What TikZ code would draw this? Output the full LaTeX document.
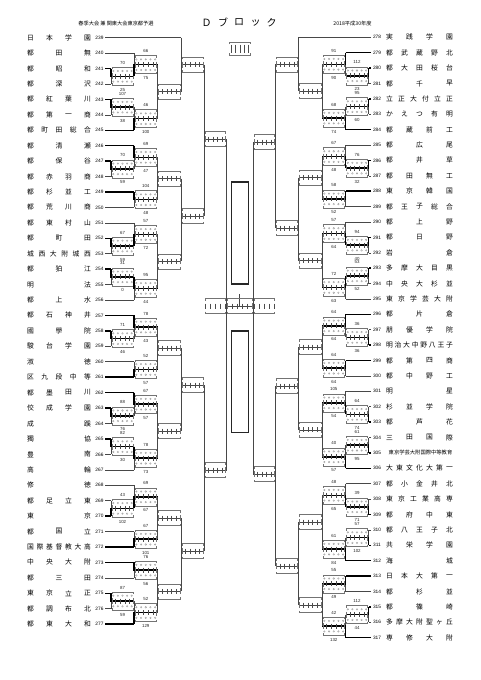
\documentclass[tikz,border=0pt]{standalone}
\usepackage{fontspec}
\setmainfont{Liberation Sans}
\newfontfamily\jp{Noto Sans CJK JP}
\newcount\lc
\newcommand\lab[3]{\global\advance\lc by 1 \node[lab] (L\the\lc) at (#1,#2) {#3};}
% played score box
\newcommand\pbox[3]{%
 \pgfmathsetmacro\bw{#2-#1}%
 \draw[frm] (#1+1,#3-7) -- (#1+1,#3-9) -- (#2-1,#3-9) -- (#2-1,#3-7);
 \draw[frm] (#1+1,#3+7) -- (#1+1,#3+9) -- (#2-1,#3+9) -- (#2-1,#3+7);
 \draw[frm] (#1+1,#3-3) -- (#1+1,#3+3) (#2-1,#3-3) -- (#2-1,#3+3);
 \foreach \q in {1,...,4} {\draw[tk] ({#1+\bw*\q/5},#3-2.5) -- ++(0,5);}
 \foreach \q in {0,...,4} {\draw[dg] ({#1+\bw*(\q+0.5)/5},#3-5.3) circle[radius=0.8];
   \draw[dg] ({#1+\bw*(\q+0.5)/5},#3+5.3) circle[radius=0.8];}}
% unplayed box
\newcommand\ubox[3]{%
 \pgfmathsetmacro\bw{#2-#1}%
 \draw[frm] (#1+1,#3-5.5) -- (#1+1,#3-7.5) -- (#2-1,#3-7.5) -- (#2-1,#3-5.5);
 \draw[frm] (#1+1,#3+5.5) -- (#1+1,#3+7.5) -- (#2-1,#3+7.5) -- (#2-1,#3+5.5);
 \draw[frm] (#1+1,#3-3) -- (#1+1,#3+3) (#2-1,#3-3) -- (#2-1,#3+3);
 \foreach \q in {1,...,4} {\draw[tk] ({#1+\bw*\q/5},#3-2.5) -- ++(0,5);}}
% played match: X, Xn, y1, y2, ym, winner, top, bottom
\newcommand\mt[8]{%
 \draw[ln] (#1,#3) -- (#1,#4);
 \draw[ln] (#1,#5) -- (#2,#5);
 \ifcase#6\relax\or\draw[thk] (#1,#3) -- (#1,#5) -- (#2,#5);\or\draw[thk] (#1,#4) -- (#1,#5) -- (#2,#5);\fi
 \pbox{#1}{#2}{#5}
 \lab{{(#1+#2)/2}}{#5-13.5}{#7}
 \lab{{(#1+#2)/2}}{#5+13.5}{#8}}
% unplayed match
\newcommand\um[5]{%
 \draw[ln] (#1,#3) -- (#1,#4);
 \draw[ln] (#1,#5) -- (#2,#5);
 \ubox{#1}{#2}{#5}}
% team lines
\newcommand\TL[4]{\node[num] (n#1) at (99.5,#2) {#1}; \draw[#4] (105,#2) -- (#3,#2);}
\newcommand\TR[4]{\node[num] (n#1) at (102.5,#2) {#1}; \draw[#4] (108.5,#2) -- (#3,#2);}
% spread name
\newcommand\tname[5]{%
 \foreach \ch [count=\k] in {#5} {\xdef\nn{\k}}%
 \foreach \ch [count=\k] in {#5} {\node[nm] (t#1c\k) at ({#2+(#3-#2)*(\k-1)/(\nn-1)},#4) {\ch};}}
\newcommand\NL[3]{\tname{#1}{30.5}{87.5}{#2}{#3}}
\newcommand\NR[3]{\tname{#1}{389.5}{449.5}{#2}{#3}}
\begin{document}
\begin{tikzpicture}[x=1pt,y=-1pt,
 ln/.style={draw=black!72,line width=0.55pt},
 thk/.style={draw=black,line width=1.5pt},
 frm/.style={draw=black!55,line width=0.45pt},
 tk/.style={draw=black!70,line width=0.45pt},
 dg/.style={draw=black!40,line width=0.3pt},
 nm/.style={font=\jp\fontsize{6.8}{7}\selectfont,inner sep=0pt,anchor=center},
 num/.style={font=\fontsize{4.8}{5}\selectfont,inner sep=0pt},
 lab/.style={font=\fontsize{4.4}{5}\selectfont,inner sep=0pt,text=black!85},
]
\useasboundingbox (0,0) rectangle (481,680);
\fill[white] (0,0) rectangle (481,680);

% ---------- titles
\node[font=\jp\fontsize{10}{12}\selectfont,inner sep=0pt] (ti1) at (206.7,22.5) {Ｄ};
\node[font=\jp\fontsize{10}{12}\selectfont,inner sep=0pt] (ti2) at (223,22.5) {ブ};
\node[font=\jp\fontsize{10}{12}\selectfont,inner sep=0pt] (ti3) at (239.2,22.5) {ロ};
\node[font=\jp\fontsize{10}{12}\selectfont,inner sep=0pt] (ti4) at (255.5,22.5) {ッ};
\node[font=\jp\fontsize{10}{12}\selectfont,inner sep=0pt] (ti5) at (271.7,22.5) {ク};
\node[font=\jp\fontsize{5.2}{6}\selectfont,inner sep=0pt] (sub1) at (116,23.3) {春季大会 兼 関東大会東京都予選};
\node[font=\jp\fontsize{5.2}{6}\selectfont,inner sep=0pt] (sub2) at (352.5,23.3) {2018平成30年度};

% ---------- left side
\TL{239}{37.7}{181}{ln}
\TL{240}{53.1}{134}{ln}
\TL{241}{68.6}{111}{thk}
\TL{242}{84.0}{111}{ln}
\TL{243}{99.4}{111}{thk}
\TL{244}{114.9}{111}{ln}
\TL{245}{130.3}{134}{thk}
\TL{246}{145.7}{134}{thk}
\TL{247}{161.1}{111}{thk}
\TL{248}{176.6}{111}{ln}
\TL{249}{192.0}{134}{thk}
\TL{250}{207.4}{134}{ln}
\TL{251}{222.9}{134}{ln}
\TL{252}{238.3}{111}{thk}
\TL{253}{253.7}{111}{ln}
\TL{254}{269.1}{111}{thk}
\TL{255}{284.6}{111}{ln}
\TL{256}{300.0}{134}{ln}
\TL{257}{315.4}{134}{thk}
\TL{258}{330.9}{111}{thk}
\TL{259}{346.3}{111}{ln}
\TL{260}{361.7}{134}{ln}
\TL{261}{377.2}{134}{thk}
\TL{262}{392.6}{134}{thk}
\TL{263}{408.1}{111}{thk}
\TL{264}{423.5}{111}{ln}
\TL{265}{438.9}{111}{thk}
\TL{266}{454.4}{111}{ln}
\TL{267}{469.8}{134}{ln}
\TL{268}{485.2}{134}{ln}
\TL{269}{500.6}{111}{ln}
\TL{270}{516.1}{111}{thk}
\TL{271}{531.5}{134}{ln}
\TL{272}{546.9}{134}{thk}
\TL{273}{562.4}{134}{thk}
\TL{274}{577.8}{134}{ln}
\TL{275}{593.3}{111}{thk}
\TL{276}{608.7}{111}{ln}
\TL{277}{624.1}{134}{thk}

\mt{111}{134}{68.6}{84.0}{76.3}{1}{70}{25}
\mt{134}{157.5}{53.1}{76.3}{64.7}{2}{66}{75}
\mt{111}{134}{99.4}{114.9}{107.15}{1}{107}{38}
\mt{134}{157.5}{107.15}{130.3}{118.7}{2}{46}{100}
\um{157.5}{181}{64.7}{118.7}{91.7}
\um{181}{204}{37.7}{91.7}{64.7}
\mt{111}{134}{161.1}{176.6}{168.85}{1}{70}{59}
\mt{134}{157.5}{145.7}{168.85}{157.3}{1}{69}{47}
\mt{134}{157.5}{192.0}{207.4}{199.7}{1}{104}{48}
\um{157.5}{181}{157.3}{199.7}{178.5}
\mt{111}{134}{238.3}{253.7}{246}{1}{67}{59}
\mt{134}{157.5}{222.9}{246}{234.45}{2}{57}{72}
\mt{111}{134}{269.1}{284.6}{276.85}{1}{31}{0}
\mt{134}{157.5}{276.85}{300.0}{288.4}{1}{95}{44}
\um{157.5}{181}{234.45}{288.4}{261.4}
\um{181}{204}{178.5}{261.4}{216}
\um{204}{226.7}{64.7}{216}{139}
\mt{111}{134}{330.9}{346.3}{338.6}{1}{71}{46}
\mt{134}{157.5}{315.4}{338.6}{327}{1}{78}{43}
\mt{134}{157.5}{361.7}{377.2}{369.45}{2}{52}{57}
\um{157.5}{181}{327}{369.45}{348.2}
\mt{111}{134}{408.1}{423.5}{415.8}{1}{88}{76}
\mt{134}{157.5}{392.6}{415.8}{404.2}{1}{67}{57}
\mt{111}{134}{438.9}{454.4}{446.65}{1}{82}{30}
\mt{134}{157.5}{446.65}{469.8}{458.2}{1}{78}{73}
\um{157.5}{181}{404.2}{458.2}{431.2}
\um{181}{204}{348.2}{431.2}{385}
\mt{111}{134}{500.6}{516.1}{508.35}{2}{43}{102}
\mt{134}{157.5}{485.2}{508.35}{496.8}{2}{69}{67}
\mt{134}{157.5}{531.5}{546.9}{539.2}{2}{67}{101}
\um{157.5}{181}{496.8}{539.2}{518}
\mt{134}{157.5}{562.4}{577.8}{570.1}{1}{76}{56}
\mt{111}{134}{593.3}{608.7}{601}{1}{87}{59}
\mt{134}{157.5}{601}{624.1}{612.55}{2}{52}{129}
\um{157.5}{181}{570.1}{612.55}{591.3}
\um{181}{204}{518}{591.3}{551}
\um{204}{226.7}{385}{551}{470}
\draw[ln] (226.7,139) -- (226.7,470);

% ---------- right side (mirrored frame)
\begin{scope}[xshift=479.5pt,xscale=-1]
\TR{278}{37.3}{181}{ln}
\TR{279}{52.7}{134}{thk}
\TR{280}{68.1}{111}{thk}
\TR{281}{83.5}{111}{ln}
\TR{282}{98.9}{111}{thk}
\TR{283}{114.3}{111}{ln}
\TR{284}{129.6}{134}{thk}
\TR{285}{145.0}{134}{ln}
\TR{286}{160.4}{111}{thk}
\TR{287}{175.8}{111}{ln}
\TR{288}{191.2}{134}{thk}
\TR{289}{206.6}{134}{ln}
\TR{290}{222.0}{134}{ln}
\TR{291}{237.4}{111}{thk}
\TR{292}{252.8}{111}{ln}
\TR{293}{268.2}{111}{thk}
\TR{294}{283.6}{111}{ln}
\TR{295}{299.0}{134}{ln}
\TR{296}{314.3}{134}{thk}
\TR{297}{329.7}{111}{ln}
\TR{298}{345.1}{111}{thk}
\TR{299}{360.5}{134}{thk}
\TR{300}{375.9}{134}{ln}
\TR{301}{391.3}{134}{ln}
\TR{302}{406.7}{111}{ln}
\TR{303}{422.1}{111}{thk}
\TR{304}{437.5}{111}{ln}
\TR{305}{452.9}{111}{thk}
\TR{306}{468.3}{134}{thk}
\TR{307}{483.7}{134}{ln}
\TR{308}{499.1}{111}{ln}
\TR{309}{514.5}{111}{thk}
\TR{310}{529.9}{111}{ln}
\TR{311}{545.3}{111}{thk}
\TR{312}{560.7}{134}{thk}
\TR{313}{576.1}{134}{thk}
\TR{314}{591.5}{134}{ln}
\TR{315}{606.9}{111}{thk}
\TR{316}{622.3}{111}{ln}
\TR{317}{637.7}{134}{thk}

\mt{111}{134}{68.1}{83.5}{75.8}{1}{112}{23}
\mt{134}{157.5}{52.7}{75.8}{64.25}{1}{91}{90}
\mt{111}{134}{98.9}{114.3}{106.6}{1}{95}{60}
\mt{134}{157.5}{106.6}{129.6}{118.1}{2}{68}{74}
\um{157.5}{181}{64.25}{118.1}{91.2}
\um{181}{204}{37.3}{91.2}{64.25}
\mt{111}{134}{160.4}{175.8}{168.1}{1}{76}{32}
\mt{134}{157.5}{145.0}{168.1}{156.55}{2}{67}{48}
\mt{134}{157.5}{191.2}{206.6}{198.9}{1}{58}{52}
\um{157.5}{181}{156.55}{198.9}{177.7}
\mt{111}{134}{237.4}{252.8}{245.1}{1}{94}{40}
\mt{134}{157.5}{222.0}{245.1}{233.55}{2}{57}{64}
\mt{111}{134}{268.2}{283.6}{275.9}{1}{53}{52}
\mt{134}{157.5}{275.9}{299.0}{287.45}{1}{72}{63}
\um{157.5}{181}{233.55}{287.45}{260.5}
\um{181}{204}{177.7}{260.5}{228}
\um{204}{226.7}{64.25}{228}{142}
\mt{111}{134}{329.7}{345.1}{337.4}{2}{36}{36}
\mt{134}{157.5}{314.3}{337.4}{325.85}{1}{64}{64}
\mt{134}{157.5}{360.5}{375.9}{368.2}{1}{64}{64}
\um{157.5}{181}{325.85}{368.2}{347}
\mt{111}{134}{406.7}{422.1}{414.4}{2}{64}{74}
\mt{134}{157.5}{391.3}{414.4}{402.85}{2}{105}{54}
\mt{111}{134}{437.5}{452.9}{445.2}{2}{61}{95}
\mt{134}{157.5}{445.2}{468.3}{456.75}{2}{40}{57}
\um{157.5}{181}{402.85}{456.75}{429.8}
\um{181}{204}{347}{429.8}{386}
\mt{111}{134}{499.1}{514.5}{506.8}{2}{39}{71}
\mt{134}{157.5}{483.7}{506.8}{495.25}{2}{48}{65}
\mt{111}{134}{529.9}{545.3}{537.6}{2}{57}{102}
\mt{134}{157.5}{537.6}{560.7}{549.15}{2}{61}{84}
\um{157.5}{181}{495.25}{549.15}{522.2}
\mt{134}{157.5}{576.1}{591.5}{583.8}{1}{55}{49}
\mt{111}{134}{606.9}{622.3}{614.6}{1}{112}{44}
\mt{134}{157.5}{614.6}{637.7}{626.15}{2}{42}{132}
\um{157.5}{181}{583.8}{626.15}{605}
\um{181}{204}{522.2}{605}{566}
\um{204}{226.7}{386}{566}{474}
\draw[ln] (226.7,142) -- (226.7,474);
\end{scope}

% ---------- centre
\draw[ln] (226.7,306) -- (252.8,306);
\draw[ln] (239.6,306) -- (239.6,294);
\ubox{226.7}{252.8}{306}
\foreach \bx/\bxx in {204.5/226, 253.5/275} {
  \draw[frm] (\bx+1,306-5.5) -- (\bx+1,306-7.5) -- (\bxx-1,306-7.5) -- (\bxx-1,306-5.5);
  \draw[frm] (\bx+1,306+5.5) -- (\bx+1,306+7.5) -- (\bxx-1,306+7.5) -- (\bxx-1,306+5.5);
  \foreach \q in {0,...,4} {\draw[tk] ({\bx+1+(\bxx-\bx-2)*\q/4},306-2.5) -- ++(0,5);}
}
\draw[black!85,line width=1.2pt] (231.7,182) rectangle (248.3,284);
\draw[black!85,line width=1.2pt] (231.7,331) rectangle (248.3,432.5);
% legend box
\draw[frm] (229.5,44) -- (229.5,42) -- (250,42) -- (250,44);
\draw[frm] (229.5,53) -- (229.5,55) -- (250,55) -- (250,53);
\foreach \q in {0,...,4} {\draw[tk] ({231+\q*4.4},44.5) -- ++(0,8);}

% ---------- names left
\NL{239}{37.7}{日,本,学,園}
\NL{240}{53.1}{都,田,無}
\NL{241}{68.6}{都,昭,和}
\NL{242}{84.0}{都,深,沢}
\NL{243}{99.4}{都,紅,葉,川}
\NL{244}{114.9}{都,第,一,商}
\NL{245}{130.3}{都,町,田,総,合}
\NL{246}{145.7}{都,清,瀬}
\NL{247}{161.1}{都,保,谷}
\NL{248}{176.6}{都,赤,羽,商}
\NL{249}{192.0}{都,杉,並,工}
\NL{250}{207.4}{都,荒,川,商}
\NL{251}{222.9}{都,東,村,山}
\NL{252}{238.3}{都,町,田}
\NL{253}{253.7}{城,西,大,附,城,西}
\NL{254}{269.1}{都,狛,江}
\NL{255}{284.6}{明,法}
\NL{256}{300.0}{都,上,水}
\NL{257}{315.4}{都,石,神,井}
\NL{258}{330.9}{國,學,院}
\NL{259}{346.3}{駿,台,学,園}
\NL{260}{361.7}{淑,徳}
\NL{261}{377.2}{区,九,段,中,等}
\NL{262}{392.6}{都,墨,田,川}
\NL{263}{408.1}{佼,成,学,園}
\NL{264}{423.5}{成,蹊}
\NL{265}{438.9}{獨,協}
\NL{266}{454.4}{豊,南}
\NL{267}{469.8}{高,輪}
\NL{268}{485.2}{修,徳}
\NL{269}{500.6}{都,足,立,東}
\NL{270}{516.1}{東,京}
\NL{271}{531.5}{都,国,立}
\NL{272}{546.9}{国,際,基,督,教,大,高}
\NL{273}{562.4}{中,央,大,附}
\NL{274}{577.8}{都,三,田}
\NL{275}{593.3}{東,京,立,正}
\NL{276}{608.7}{都,調,布,北}
\NL{277}{624.1}{都,東,大,和}

% ---------- names right
\NR{278}{37.3}{実,践,学,園}
\NR{279}{52.7}{都,武,蔵,野,北}
\NR{280}{68.1}{都,大,田,桜,台}
\NR{281}{83.5}{都,千,早}
\NR{282}{98.9}{立,正,大,付,立,正}
\NR{283}{114.3}{か,え,つ,有,明}
\NR{284}{129.6}{都,蔵,前,工}
\NR{285}{145.0}{都,広,尾}
\NR{286}{160.4}{都,井,草}
\NR{287}{175.8}{都,田,無,工}
\NR{288}{191.2}{東,京,韓,国}
\NR{289}{206.6}{都,王,子,総,合}
\NR{290}{222.0}{都,上,野}
\NR{291}{237.4}{都,日,野}
\NR{292}{252.8}{岩,倉}
\NR{293}{268.2}{多,摩,大,目,黒}
\NR{294}{283.6}{中,央,大,杉,並}
\NR{295}{299.0}{東,京,学,芸,大,附}
\NR{296}{314.3}{都,片,倉}
\NR{297}{329.7}{朋,優,学,院}
\NR{298}{345.1}{明,治,大,中,野,八,王,子}
\NR{299}{360.5}{都,第,四,商}
\NR{300}{375.9}{都,中,野,工}
\NR{301}{391.3}{明,星}
\NR{302}{406.7}{杉,並,学,院}
\NR{303}{422.1}{都,芦,花}
\NR{304}{437.5}{三,田,国,際}
\node[font=\jp\fontsize{5.3}{6}\selectfont,inner sep=0pt] (t305) at (420.5,452.9) {東京学芸大附国際中等教育};
\NR{306}{468.3}{大,東,文,化,大,第,一}
\NR{307}{483.7}{都,小,金,井,北}
\NR{308}{499.1}{東,京,工,業,高,専}
\NR{309}{514.5}{都,府,中,東}
\NR{310}{529.9}{都,八,王,子,北}
\NR{311}{545.3}{共,栄,学,園}
\NR{312}{560.7}{海,城}
\NR{313}{576.1}{日,本,大,第,一}
\NR{314}{591.5}{都,杉,並}
\NR{315}{606.9}{都,篠,崎}
\NR{316}{622.3}{多,摩,大,附,聖,ヶ,丘}
\NR{317}{637.7}{専,修,大,附}
\end{tikzpicture}
\end{document}
